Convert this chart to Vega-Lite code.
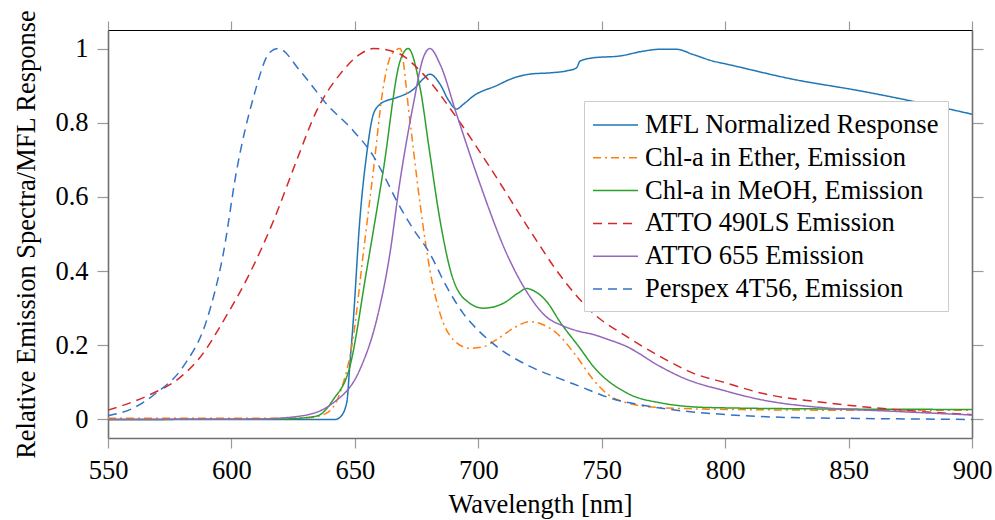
{
"$schema": "https://vega.github.io/schema/vega-lite/v6.json",
"width": 864, "height": 408,
"autosize": "none",
"padding": {"left": 108, "top": 30, "right": 23, "bottom": 82},
"background": "white",
"config": {
  "font": "Liberation Serif",
  "view": {"stroke": null},
  "axis": {"domain": true, "domainColor": "#707070", "domainWidth": 1.6, "grid": false, "labelFont": "Liberation Serif", "labelFontSize": 26.5, "labelColor": "black", "titleFont": "Liberation Serif", "titleFontSize": 26.5, "titleFontWeight": "normal", "titleColor": "black", "tickColor": "#9a9a9a", "tickWidth": 1.2, "labelFlush": false}
},
"datasets": {
"d": [
{"s":"MFL Normalized Response","wl":550,"v":0},{"s":"MFL Normalized Response","wl":600,"v":0},{"s":"MFL Normalized Response","wl":642,"v":0},{"s":"MFL Normalized Response","wl":644,"v":0.006},{"s":"MFL Normalized Response","wl":646.7,"v":0.045},{"s":"MFL Normalized Response","wl":648,"v":0.15},{"s":"MFL Normalized Response","wl":649.4,"v":0.27},{"s":"MFL Normalized Response","wl":652,"v":0.537},{"s":"MFL Normalized Response","wl":654.8,"v":0.716},{"s":"MFL Normalized Response","wl":657.5,"v":0.823},{"s":"MFL Normalized Response","wl":660.2,"v":0.85},{"s":"MFL Normalized Response","wl":663,"v":0.86},{"s":"MFL Normalized Response","wl":667,"v":0.868},{"s":"MFL Normalized Response","wl":673.7,"v":0.89},{"s":"MFL Normalized Response","wl":678,"v":0.92},{"s":"MFL Normalized Response","wl":680.4,"v":0.931},{"s":"MFL Normalized Response","wl":684.5,"v":0.904},{"s":"MFL Normalized Response","wl":688,"v":0.86},{"s":"MFL Normalized Response","wl":691.2,"v":0.837},{"s":"MFL Normalized Response","wl":694,"v":0.85},{"s":"MFL Normalized Response","wl":698,"v":0.872},{"s":"MFL Normalized Response","wl":707.4,"v":0.9},{"s":"MFL Normalized Response","wl":714,"v":0.92},{"s":"MFL Normalized Response","wl":720.9,"v":0.931},{"s":"MFL Normalized Response","wl":730,"v":0.935},{"s":"MFL Normalized Response","wl":736,"v":0.94},{"s":"MFL Normalized Response","wl":739.8,"v":0.948},{"s":"MFL Normalized Response","wl":741.2,"v":0.966},{"s":"MFL Normalized Response","wl":746.6,"v":0.975},{"s":"MFL Normalized Response","wl":757.4,"v":0.98},{"s":"MFL Normalized Response","wl":766.9,"v":0.993},{"s":"MFL Normalized Response","wl":773.6,"v":0.998},{"s":"MFL Normalized Response","wl":780.3,"v":0.998},{"s":"MFL Normalized Response","wl":787,"v":0.984},{"s":"MFL Normalized Response","wl":795.2,"v":0.966},{"s":"MFL Normalized Response","wl":800.6,"v":0.958},{"s":"MFL Normalized Response","wl":827.6,"v":0.917},{"s":"MFL Normalized Response","wl":854.6,"v":0.886},{"s":"MFL Normalized Response","wl":881.6,"v":0.85},{"s":"MFL Normalized Response","wl":900,"v":0.823},

{"s":"Chl-a in Ether, Emission","wl":550,"v":0.003},{"s":"Chl-a in Ether, Emission","wl":600,"v":0.003},{"s":"Chl-a in Ether, Emission","wl":630,"v":0.004},{"s":"Chl-a in Ether, Emission","wl":638,"v":0.015},{"s":"Chl-a in Ether, Emission","wl":644,"v":0.072},{"s":"Chl-a in Ether, Emission","wl":649.4,"v":0.224},{"s":"Chl-a in Ether, Emission","wl":653.4,"v":0.447},{"s":"Chl-a in Ether, Emission","wl":657.5,"v":0.671},{"s":"Chl-a in Ether, Emission","wl":661.5,"v":0.895},{"s":"Chl-a in Ether, Emission","wl":664.2,"v":0.975},{"s":"Chl-a in Ether, Emission","wl":666.5,"v":0.995},{"s":"Chl-a in Ether, Emission","wl":668.3,"v":1.0},{"s":"Chl-a in Ether, Emission","wl":672.3,"v":0.805},{"s":"Chl-a in Ether, Emission","wl":676.4,"v":0.582},{"s":"Chl-a in Ether, Emission","wl":680.4,"v":0.403},{"s":"Chl-a in Ether, Emission","wl":684.5,"v":0.286},{"s":"Chl-a in Ether, Emission","wl":689.9,"v":0.215},{"s":"Chl-a in Ether, Emission","wl":696.6,"v":0.192},{"s":"Chl-a in Ether, Emission","wl":702,"v":0.196},{"s":"Chl-a in Ether, Emission","wl":707.4,"v":0.215},{"s":"Chl-a in Ether, Emission","wl":714,"v":0.245},{"s":"Chl-a in Ether, Emission","wl":720.9,"v":0.264},{"s":"Chl-a in Ether, Emission","wl":726,"v":0.256},{"s":"Chl-a in Ether, Emission","wl":731.7,"v":0.233},{"s":"Chl-a in Ether, Emission","wl":739.8,"v":0.17},{"s":"Chl-a in Ether, Emission","wl":746.6,"v":0.107},{"s":"Chl-a in Ether, Emission","wl":752,"v":0.07},{"s":"Chl-a in Ether, Emission","wl":760,"v":0.045},{"s":"Chl-a in Ether, Emission","wl":773.6,"v":0.032},{"s":"Chl-a in Ether, Emission","wl":800.6,"v":0.027},{"s":"Chl-a in Ether, Emission","wl":850,"v":0.025},{"s":"Chl-a in Ether, Emission","wl":900,"v":0.025},

{"s":"Chl-a in MeOH, Emission","wl":550,"v":0},{"s":"Chl-a in MeOH, Emission","wl":620,"v":0.001},{"s":"Chl-a in MeOH, Emission","wl":634.5,"v":0.009},{"s":"Chl-a in MeOH, Emission","wl":641.3,"v":0.054},{"s":"Chl-a in MeOH, Emission","wl":648,"v":0.143},{"s":"Chl-a in MeOH, Emission","wl":654.8,"v":0.403},{"s":"Chl-a in MeOH, Emission","wl":661.5,"v":0.671},{"s":"Chl-a in MeOH, Emission","wl":668.3,"v":0.966},{"s":"Chl-a in MeOH, Emission","wl":671.6,"v":1.0},{"s":"Chl-a in MeOH, Emission","wl":676.4,"v":0.895},{"s":"Chl-a in MeOH, Emission","wl":680.4,"v":0.716},{"s":"Chl-a in MeOH, Emission","wl":684.5,"v":0.537},{"s":"Chl-a in MeOH, Emission","wl":689.9,"v":0.376},{"s":"Chl-a in MeOH, Emission","wl":696.6,"v":0.313},{"s":"Chl-a in MeOH, Emission","wl":702,"v":0.3},{"s":"Chl-a in MeOH, Emission","wl":710.1,"v":0.313},{"s":"Chl-a in MeOH, Emission","wl":716,"v":0.34},{"s":"Chl-a in MeOH, Emission","wl":719.6,"v":0.353},{"s":"Chl-a in MeOH, Emission","wl":723,"v":0.345},{"s":"Chl-a in MeOH, Emission","wl":727.7,"v":0.318},{"s":"Chl-a in MeOH, Emission","wl":733,"v":0.264},{"s":"Chl-a in MeOH, Emission","wl":741.2,"v":0.192},{"s":"Chl-a in MeOH, Emission","wl":746.6,"v":0.143},{"s":"Chl-a in MeOH, Emission","wl":760,"v":0.072},{"s":"Chl-a in MeOH, Emission","wl":773.6,"v":0.045},{"s":"Chl-a in MeOH, Emission","wl":793.8,"v":0.032},{"s":"Chl-a in MeOH, Emission","wl":850,"v":0.028},{"s":"Chl-a in MeOH, Emission","wl":900,"v":0.027},

{"s":"ATTO 490LS Emission","wl":550,"v":0.025},{"s":"ATTO 490LS Emission","wl":567,"v":0.067},{"s":"ATTO 490LS Emission","wl":579,"v":0.112},{"s":"ATTO 490LS Emission","wl":587,"v":0.165},{"s":"ATTO 490LS Emission","wl":598,"v":0.28},{"s":"ATTO 490LS Emission","wl":607.5,"v":0.395},{"s":"ATTO 490LS Emission","wl":617,"v":0.535},{"s":"ATTO 490LS Emission","wl":626.4,"v":0.698},{"s":"ATTO 490LS Emission","wl":634.5,"v":0.832},{"s":"ATTO 490LS Emission","wl":644,"v":0.931},{"s":"ATTO 490LS Emission","wl":652,"v":0.984},{"s":"ATTO 490LS Emission","wl":657.5,"v":1.0},{"s":"ATTO 490LS Emission","wl":667,"v":0.989},{"s":"ATTO 490LS Emission","wl":677.7,"v":0.931},{"s":"ATTO 490LS Emission","wl":691.2,"v":0.814},{"s":"ATTO 490LS Emission","wl":704.7,"v":0.68},{"s":"ATTO 490LS Emission","wl":720.9,"v":0.51},{"s":"ATTO 490LS Emission","wl":733,"v":0.39},{"s":"ATTO 490LS Emission","wl":746.6,"v":0.286},{"s":"ATTO 490LS Emission","wl":760,"v":0.224},{"s":"ATTO 490LS Emission","wl":773.6,"v":0.17},{"s":"ATTO 490LS Emission","wl":787,"v":0.125},{"s":"ATTO 490LS Emission","wl":800.6,"v":0.098},{"s":"ATTO 490LS Emission","wl":814,"v":0.072},{"s":"ATTO 490LS Emission","wl":841,"v":0.045},{"s":"ATTO 490LS Emission","wl":868,"v":0.027},{"s":"ATTO 490LS Emission","wl":900,"v":0.013},

{"s":"ATTO 655 Emission","wl":550,"v":0},{"s":"ATTO 655 Emission","wl":610,"v":0.001},{"s":"ATTO 655 Emission","wl":627.8,"v":0.009},{"s":"ATTO 655 Emission","wl":641.3,"v":0.045},{"s":"ATTO 655 Emission","wl":652,"v":0.134},{"s":"ATTO 655 Emission","wl":658.8,"v":0.268},{"s":"ATTO 655 Emission","wl":664.2,"v":0.447},{"s":"ATTO 655 Emission","wl":668,"v":0.63},{"s":"ATTO 655 Emission","wl":673.7,"v":0.85},{"s":"ATTO 655 Emission","wl":677.7,"v":0.975},{"s":"ATTO 655 Emission","wl":680.4,"v":1.0},{"s":"ATTO 655 Emission","wl":684.5,"v":0.958},{"s":"ATTO 655 Emission","wl":691.2,"v":0.823},{"s":"ATTO 655 Emission","wl":700.7,"v":0.635},{"s":"ATTO 655 Emission","wl":711.5,"v":0.447},{"s":"ATTO 655 Emission","wl":720.9,"v":0.331},{"s":"ATTO 655 Emission","wl":727,"v":0.28},{"s":"ATTO 655 Emission","wl":734.4,"v":0.252},{"s":"ATTO 655 Emission","wl":741.2,"v":0.237},{"s":"ATTO 655 Emission","wl":746.6,"v":0.229},{"s":"ATTO 655 Emission","wl":752,"v":0.217},{"s":"ATTO 655 Emission","wl":760,"v":0.197},{"s":"ATTO 655 Emission","wl":773.6,"v":0.143},{"s":"ATTO 655 Emission","wl":783,"v":0.112},{"s":"ATTO 655 Emission","wl":800.6,"v":0.076},{"s":"ATTO 655 Emission","wl":814,"v":0.054},{"s":"ATTO 655 Emission","wl":841,"v":0.031},{"s":"ATTO 655 Emission","wl":868,"v":0.022},{"s":"ATTO 655 Emission","wl":900,"v":0.012},

{"s":"Perspex 4T56, Emission","wl":550,"v":0.01},{"s":"Perspex 4T56, Emission","wl":560,"v":0.03},{"s":"Perspex 4T56, Emission","wl":569.7,"v":0.072},{"s":"Perspex 4T56, Emission","wl":580.5,"v":0.143},{"s":"Perspex 4T56, Emission","wl":590,"v":0.268},{"s":"Perspex 4T56, Emission","wl":596.7,"v":0.447},{"s":"Perspex 4T56, Emission","wl":602.1,"v":0.671},{"s":"Perspex 4T56, Emission","wl":608.9,"v":0.868},{"s":"Perspex 4T56, Emission","wl":615.6,"v":0.99},{"s":"Perspex 4T56, Emission","wl":619,"v":1.0},{"s":"Perspex 4T56, Emission","wl":627.8,"v":0.94},{"s":"Perspex 4T56, Emission","wl":638.6,"v":0.85},{"s":"Perspex 4T56, Emission","wl":649.4,"v":0.778},{"s":"Perspex 4T56, Emission","wl":657.5,"v":0.71},{"s":"Perspex 4T56, Emission","wl":662,"v":0.655},{"s":"Perspex 4T56, Emission","wl":666.9,"v":0.59},{"s":"Perspex 4T56, Emission","wl":673,"v":0.52},{"s":"Perspex 4T56, Emission","wl":680.4,"v":0.447},{"s":"Perspex 4T56, Emission","wl":687,"v":0.36},{"s":"Perspex 4T56, Emission","wl":693.9,"v":0.286},{"s":"Perspex 4T56, Emission","wl":700,"v":0.24},{"s":"Perspex 4T56, Emission","wl":707.4,"v":0.197},{"s":"Perspex 4T56, Emission","wl":720.9,"v":0.143},{"s":"Perspex 4T56, Emission","wl":733,"v":0.11},{"s":"Perspex 4T56, Emission","wl":741.2,"v":0.089},{"s":"Perspex 4T56, Emission","wl":753.3,"v":0.058},{"s":"Perspex 4T56, Emission","wl":773.6,"v":0.031},{"s":"Perspex 4T56, Emission","wl":800.6,"v":0.013},{"s":"Perspex 4T56, Emission","wl":827.4,"v":0.005},{"s":"Perspex 4T56, Emission","wl":850,"v":0.003},{"s":"Perspex 4T56, Emission","wl":900,"v":0.0}
]
},
"data": {"name": "d"},
"layer": [
  {
    "mark": {"type": "line", "strokeWidth": 1.5, "interpolate": "monotone"},
    "encoding": {
      "x": {"field": "wl", "type": "quantitative", "scale": {"domain": [550, 900], "nice": false, "zero": false},
            "axis": {"orient": "bottom", "values": [550, 600, 650, 700, 750, 800, 850, 900], "tickSize": 10, "labelPadding": 9, "title": "Wavelength [nm]", "titlePadding": 8}},
      "y": {"field": "v", "type": "quantitative", "scale": {"domain": [-0.05, 1.05], "nice": false, "zero": false},
            "axis": {"orient": "left", "values": [0, 0.2, 0.4, 0.6, 0.8, 1], "format": "~g", "tickSize": 11, "labelPadding": 9, "title": "Relative Emission Spectra/MFL Response", "titlePadding": 14}},
      "color": {"field": "s", "type": "nominal",
        "scale": {"domain": ["MFL Normalized Response", "Chl-a in Ether, Emission", "Chl-a in MeOH, Emission", "ATTO 490LS Emission", "ATTO 655 Emission", "Perspex 4T56, Emission"],
                  "range": ["#1f77b4", "#ff7f0e", "#2ca02c", "#d62728", "#9467bd", "#3471c8"]},
        "legend": {"title": null, "orient": "none", "legendX": 476, "legendY": 71, "symbolType": "M-1,0H2", "symbolSize": 900, "symbolStrokeWidth": 1.5, "labelFont": "Liberation Serif", "labelFontSize": 26.5, "labelColor": "black", "labelOffset": 21, "rowPadding": 2.8, "padding": 8, "strokeColor": "#cccccc", "fillColor": "white", "labelLimit": 500}},
      "strokeDash": {"field": "s", "type": "nominal",
        "scale": {"domain": ["MFL Normalized Response", "Chl-a in Ether, Emission", "Chl-a in MeOH, Emission", "ATTO 490LS Emission", "ATTO 655 Emission", "Perspex 4T56, Emission"],
                  "range": [[1, 0], [8, 4, 2, 4], [1, 0], [9, 6], [1, 0], [9, 6]]},
        "legend": {"title": null, "orient": "none", "legendX": 476, "legendY": 71, "symbolType": "M-1,0H2", "symbolSize": 900, "symbolStrokeWidth": 1.5, "labelFont": "Liberation Serif", "labelFontSize": 26.5, "labelColor": "black", "labelOffset": 21, "rowPadding": 2.8, "padding": 8, "strokeColor": "#cccccc", "fillColor": "white", "labelLimit": 500}}
    }
  },
  {
    "mark": {"type": "line", "opacity": 0},
    "encoding": {
      "x": {"field": "wl", "type": "quantitative", "axis": {"orient": "top", "values": [550, 600, 650, 700, 750, 800, 850, 900], "labels": false, "title": null, "tickSize": 9, "domainColor": "black", "domainWidth": 1.2}},
      "y": {"field": "v", "type": "quantitative", "axis": {"orient": "right", "values": [0, 0.2, 0.4, 0.6, 0.8, 1], "labels": false, "title": null, "tickSize": 11}}
    }
  }
],
"resolve": {"axis": {"x": "independent", "y": "independent"}}
}
